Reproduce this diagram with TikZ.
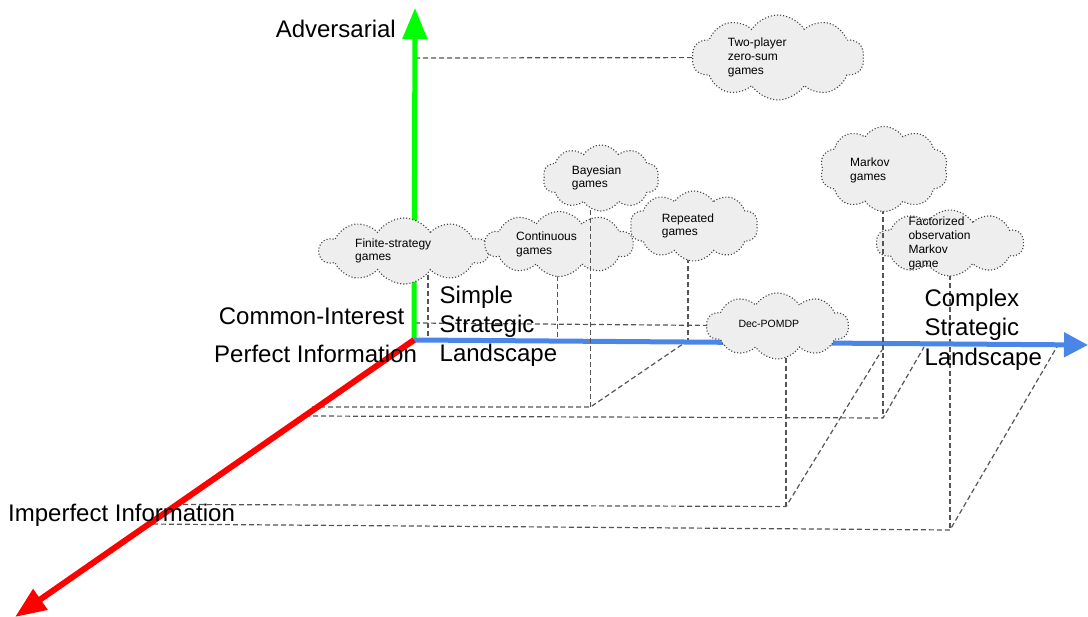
\documentclass[tikz,border=0pt]{standalone}
\usepackage{fontspec}
\setmainfont{Liberation Sans}
\usetikzlibrary{shapes.symbols,arrows.meta}
\definecolor{axgreen}{HTML}{00FF00}
\definecolor{axblue}{HTML}{4A86E8}
\definecolor{axred}{HTML}{FF0000}
\definecolor{cloudfill}{HTML}{EEEEEE}
\definecolor{clouddraw}{HTML}{444444}
\definecolor{dashgray}{HTML}{555555}
\newcommand{\mlines}[1]{\begin{tabular}[t]{@{}l@{}}#1\end{tabular}}
\pgfdeclarelayer{guides}
\pgfdeclarelayer{axes}
\pgfdeclarelayer{front}
\pgfsetlayers{guides,axes,main,front}
\begin{document}
\begin{tikzpicture}[x=1pt,y=-1pt,
  gcloud/.style={cloud, cloud puffs=10, cloud puff arc=115, cloud ignores aspect,
    draw=clouddraw, line width=1.1pt, dash pattern=on 1.1pt off 2pt,
    fill=cloudfill, inner sep=0pt},
  ctext/.style={anchor=base west, inner sep=0pt, font=\fontsize{12}{13.7}\selectfont},
  bigtext/.style={inner sep=0pt, font=\fontsize{24}{29.3}\selectfont},
  guide/.style={draw=dashgray, line width=1.2pt, dash pattern=on 5pt off 3pt},
  axisline/.style={line width=5pt, -{Triangle[length=31pt,width=24pt]}},
]
\useasboundingbox (0,0) rectangle (1088,617);

% key points
\coordinate (O) at (414,340);
\coordinate (gtip) at (415,8);
\coordinate (btip) at (1088,345);
\coordinate (rtip) at (15,617);

\coordinate (fsF) at (428,341);
\coordinate (coF) at (557.5,341);
\coordinate (rpF) at (688,340.5);
\coordinate (byF) at (590.5,407);
\coordinate (byL) at (312,407);
\coordinate (mkF) at (883,418);
\coordinate (mkL) at (305,416);
\coordinate (mkR) at (924,347);
\coordinate (dpF) at (786,506.5);
\coordinate (dpL) at (175,504.5);
\coordinate (dpR) at (882,350);
\coordinate (dpG) at (415,323);
\coordinate (fcF) at (950,530);
\coordinate (fcL) at (145,524);
\coordinate (fcR) at (1058,345);
\coordinate (tpG) at (415,58);

% clouds
\node[gcloud, minimum width=172pt, minimum height=85pt] (c2p) at (778,57.5) {};
\node[gcloud, minimum width=169pt, minimum height=66pt] (cfs) at (404,251) {};
\node[gcloud, minimum width=148pt, minimum height=65pt] (cco) at (559,244) {};
\node[gcloud, minimum width=128pt, minimum height=70pt] (crp) at (694,226) {};
\node[gcloud, minimum width=147pt, minimum height=66pt] (cfc) at (950,243) {};
\node[gcloud, minimum width=142pt, minimum height=66pt] (cdp) at (777.5,326) {};

\begin{pgfonlayer}{front}
\node[gcloud, minimum width=116pt, minimum height=66pt] (cby) at (601,178) {};
\node[gcloud, minimum width=128pt, minimum height=85pt] (cmk) at (884,169) {};
\end{pgfonlayer}

% verticals that cross other clouds
\draw[guide] (cby.center -| byF) -- (byF);
\draw[guide] (cmk.center -| mkF) -- (mkF);

% guide lines
\begin{pgfonlayer}{guides}
\draw[guide] (tpG) -- (c2p.center);
\draw[guide] (cfs.center -| fsF) -- (fsF);
\draw[guide] (cco.center -| coF) -- (coF);
\draw[guide] (crp.center -| rpF) -- (rpF);
\draw[guide] (byL) -- (byF) -- (rpF);
\draw[guide] (mkL) -- (mkF) -- (mkR);
\draw[guide] (dpG) -- (cdp.center);
\draw[guide] (cdp.center -| dpF) -- (dpF);
\draw[guide] (dpL) -- (dpF) -- (dpR);
\draw[guide] (cfc.center -| fcF) -- (fcF);
\draw[guide] (fcL) -- (fcF) -- (fcR);
\end{pgfonlayer}

% axes
\begin{pgfonlayer}{axes}
\draw[axisline, axgreen] (O) -- (gtip);
\draw[axisline, axblue, -{Triangle[length=24pt,width=24pt]}] (O) -- (btip);
\draw[axisline, axred, line width=6pt] (O) -- (rtip);
\end{pgfonlayer}

% texts
\begin{pgfonlayer}{front}
\node[ctext] (t2p) at (727.7,46.7) {\mlines{Two-player\\zero-sum\\games}};
\node[ctext] (tby) at (571.7,174.3) {\mlines{Bayesian\\games}};
\node[ctext] (tfs) at (355,247.3) {\mlines{Finite-strategy\\games}};
\node[ctext] (tco) at (516,240.7) {\mlines{Continuous\\games}};
\node[ctext] (trp) at (661.7,222.3) {\mlines{Repeated\\games}};
\node[ctext] (tmk) at (850,166.7) {\mlines{Markov\\games}};
\node[ctext] (tfc) at (908.3,226) {\mlines{Factorized\\observation\\Markov\\game}};
\node[ctext, font=\fontsize{10.5}{12}\selectfont] (tdp) at (738.3,327.7) {Dec-POMDP};

\node[bigtext, anchor=base east] (adv) at (396,37.5) {Adversarial};
\node[bigtext, anchor=base east] (ci) at (404.5,325) {Common-Interest};
\node[bigtext, anchor=base west] (pi) at (214,362.5) {Perfect Information};
\node[bigtext, anchor=base west] (ssl) at (439.5,303.3) {\mlines{Simple\\Strategic\\Landscape}};
\node[bigtext, anchor=base west] (csl) at (924.3,306.5) {\mlines{Complex\\Strategic\\Landscape}};
\node[bigtext, anchor=base west] (ii) at (8,521.7) {Imperfect Information};
\end{pgfonlayer}
\end{tikzpicture}
\end{document}
